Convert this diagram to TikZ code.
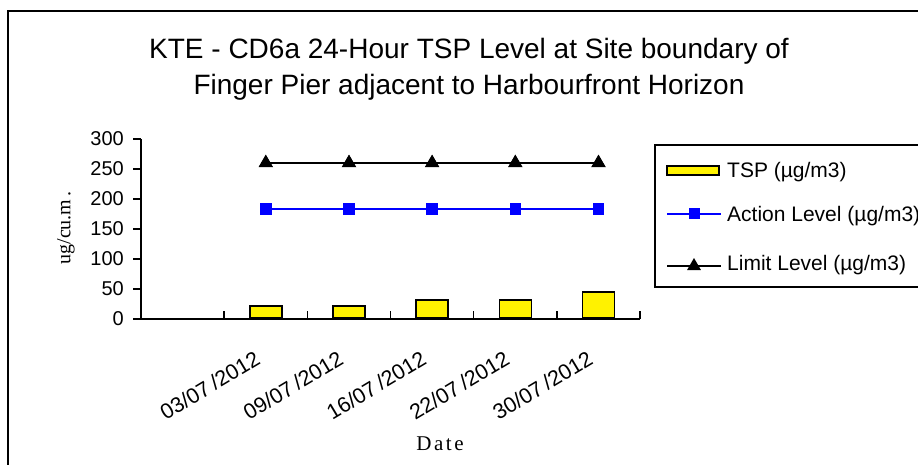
\documentclass[tikz,border=0pt]{standalone}
\usepackage{fontspec}
\setmainfont{Liberation Sans}
\newfontfamily\serifface[LetterSpace=12]{Liberation Serif}
\newfontfamily\seriftight{Liberation Serif}
\usetikzlibrary{shapes.geometric}
\newcommand{\dlab}[2]{#1/07\kern4pt/#2}
\begin{document}
\begin{tikzpicture}[x=1pt,y=-1pt,
  chartframe/.style={draw=black,line width=2pt},
  axisline/.style={draw=black,line width=2pt},
  tickline/.style={draw=black,line width=1.6pt},
  barbox/.style={draw=black,fill=yellow,line width=1.6pt,inner sep=0pt,minimum width=32pt,anchor=south},
  actline/.style={draw=blue,line width=1.4pt},
  limline/.style={draw=black,line width=1.4pt},
  sqmark/.style={rectangle,fill=blue,draw=none,minimum size=11pt,inner sep=0pt},
  trimark/.style={regular polygon,regular polygon sides=3,fill=black,draw=none,minimum size=16pt,inner sep=0pt},
  ticklabel/.style={font=\fontsize{20}{20}\selectfont,anchor=east,inner sep=0pt},
  datelabel/.style={font=\fontsize{21.5}{21.5}\selectfont,rotate=31,anchor=base east,inner sep=0pt},
  legtext/.style={font=\fontsize{21}{21}\selectfont,anchor=base west,inner sep=0pt},
  titletext/.style={font=\fontsize{28}{28}\selectfont,anchor=base,inner sep=0pt}
]
\useasboundingbox (0,0) rectangle (918,465);
\fill[white] (0,0) rectangle (918,465);
\clip (0,0) rectangle (918,465);
% outer chart frame (cut by the page at right and bottom)
\draw[chartframe] (8,11) rectangle (945,490);
% title
\node[titletext] (title1) at (469,59) {KTE - CD6a 24-Hour TSP Level at Site boundary of};
\node[titletext] (title2) at (469,95) {Finger Pier adjacent to Harbourfront Horizon};
% axes
\coordinate (ytop) at (141,139);
\coordinate (orig) at (141,319);
\coordinate (xend) at (640,319);
\draw[axisline] (ytop) -- (orig) -- (xend);
% y ticks and labels
\foreach \v/\n in {0/y0,50/y50,100/y100,150/y150,200/y200,250/y250,300/y300}{
  \draw[tickline] (133,{319-0.6*\v}) -- (141,{319-0.6*\v});
  \node[ticklabel] (\n) at (124,{319-0.6*\v}) {\v};
}
% x ticks
\foreach \k in {1,...,6}{
  \draw[tickline] ({141+83.1667*\k},319) -- ({141+83.1667*\k},311);
}
% bars
\node[barbox,minimum height=12pt] (b1) at (265.8,319) {};
\node[barbox,minimum height=12pt] (b2) at (349.0,319) {};
\node[barbox,minimum height=18pt] (b3) at (432.1,319) {};
\node[barbox,minimum height=18pt] (b4) at (515.3,319) {};
\node[barbox,minimum height=26.4pt] (b5) at (598.5,319) {};
% action level
\node[sqmark] (a1) at (265.8,209) {};
\node[sqmark] (a2) at (349.0,209) {};
\node[sqmark] (a3) at (432.1,209) {};
\node[sqmark] (a4) at (515.3,209) {};
\node[sqmark] (a5) at (598.5,209) {};
\draw[actline] (a1.center) -- (a2.center) -- (a3.center) -- (a4.center) -- (a5.center);
% limit level
\node[trimark] (l1) at (265.8,163) {};
\node[trimark] (l2) at (349.0,163) {};
\node[trimark] (l3) at (432.1,163) {};
\node[trimark] (l4) at (515.3,163) {};
\node[trimark] (l5) at (598.5,163) {};
\draw[limline] (l1.center) -- (l2.center) -- (l3.center) -- (l4.center) -- (l5.center);
% redraw markers on top of the lines
\foreach \n in {a1,a2,a3,a4,a5}{\fill[blue] (\n.south west) rectangle (\n.north east);}
\foreach \n in {l1,l2,l3,l4,l5}{\fill[black] (\n.corner 1) -- (\n.corner 2) -- (\n.corner 3) -- cycle;}
% date labels
\node[datelabel] (d1) at (261.8,363) {\dlab{03}{2012}};
\node[datelabel] (d2) at (345.0,363) {\dlab{09}{2012}};
\node[datelabel] (d3) at (428.1,363) {\dlab{16}{2012}};
\node[datelabel] (d4) at (511.3,363) {\dlab{22}{2012}};
\node[datelabel] (d5) at (594.5,363) {\dlab{30}{2012}};
% axis titles
\node[font=\fontsize{21}{21}\serifface,inner sep=0pt] (xtitle) at (440,444) {Date};
\node[font=\fontsize{20}{20}\seriftight,rotate=90,inner sep=0pt] (ytitle) at (66,228) {ug/cu.m\kern3pt.};
% legend
\draw[draw=black,line width=1.6pt] (655,145) rectangle (945,287);
\node[draw=black,fill=yellow,line width=1.4pt,minimum width=52pt,minimum height=9pt,inner sep=0pt] (sw1) at (693,170.5) {};
\node[legtext] (t1) at (727,178) {TSP (µg/m3)};
\coordinate (la) at (667,214);
\coordinate (lb) at (721,214);
\draw[actline] (la) -- (lb);
\node[sqmark] (am) at (694,214) {};
\node[legtext] (t2) at (727,222) {Action Level (µg/m3)};
\coordinate (lc) at (667,266);
\coordinate (ld) at (721,266);
\draw[limline] (lc) -- (ld);
\node[trimark] (lm) at (694,266) {};
\node[legtext] (t3) at (727,270) {Limit Level (µg/m3)};
\end{tikzpicture}
\end{document}
